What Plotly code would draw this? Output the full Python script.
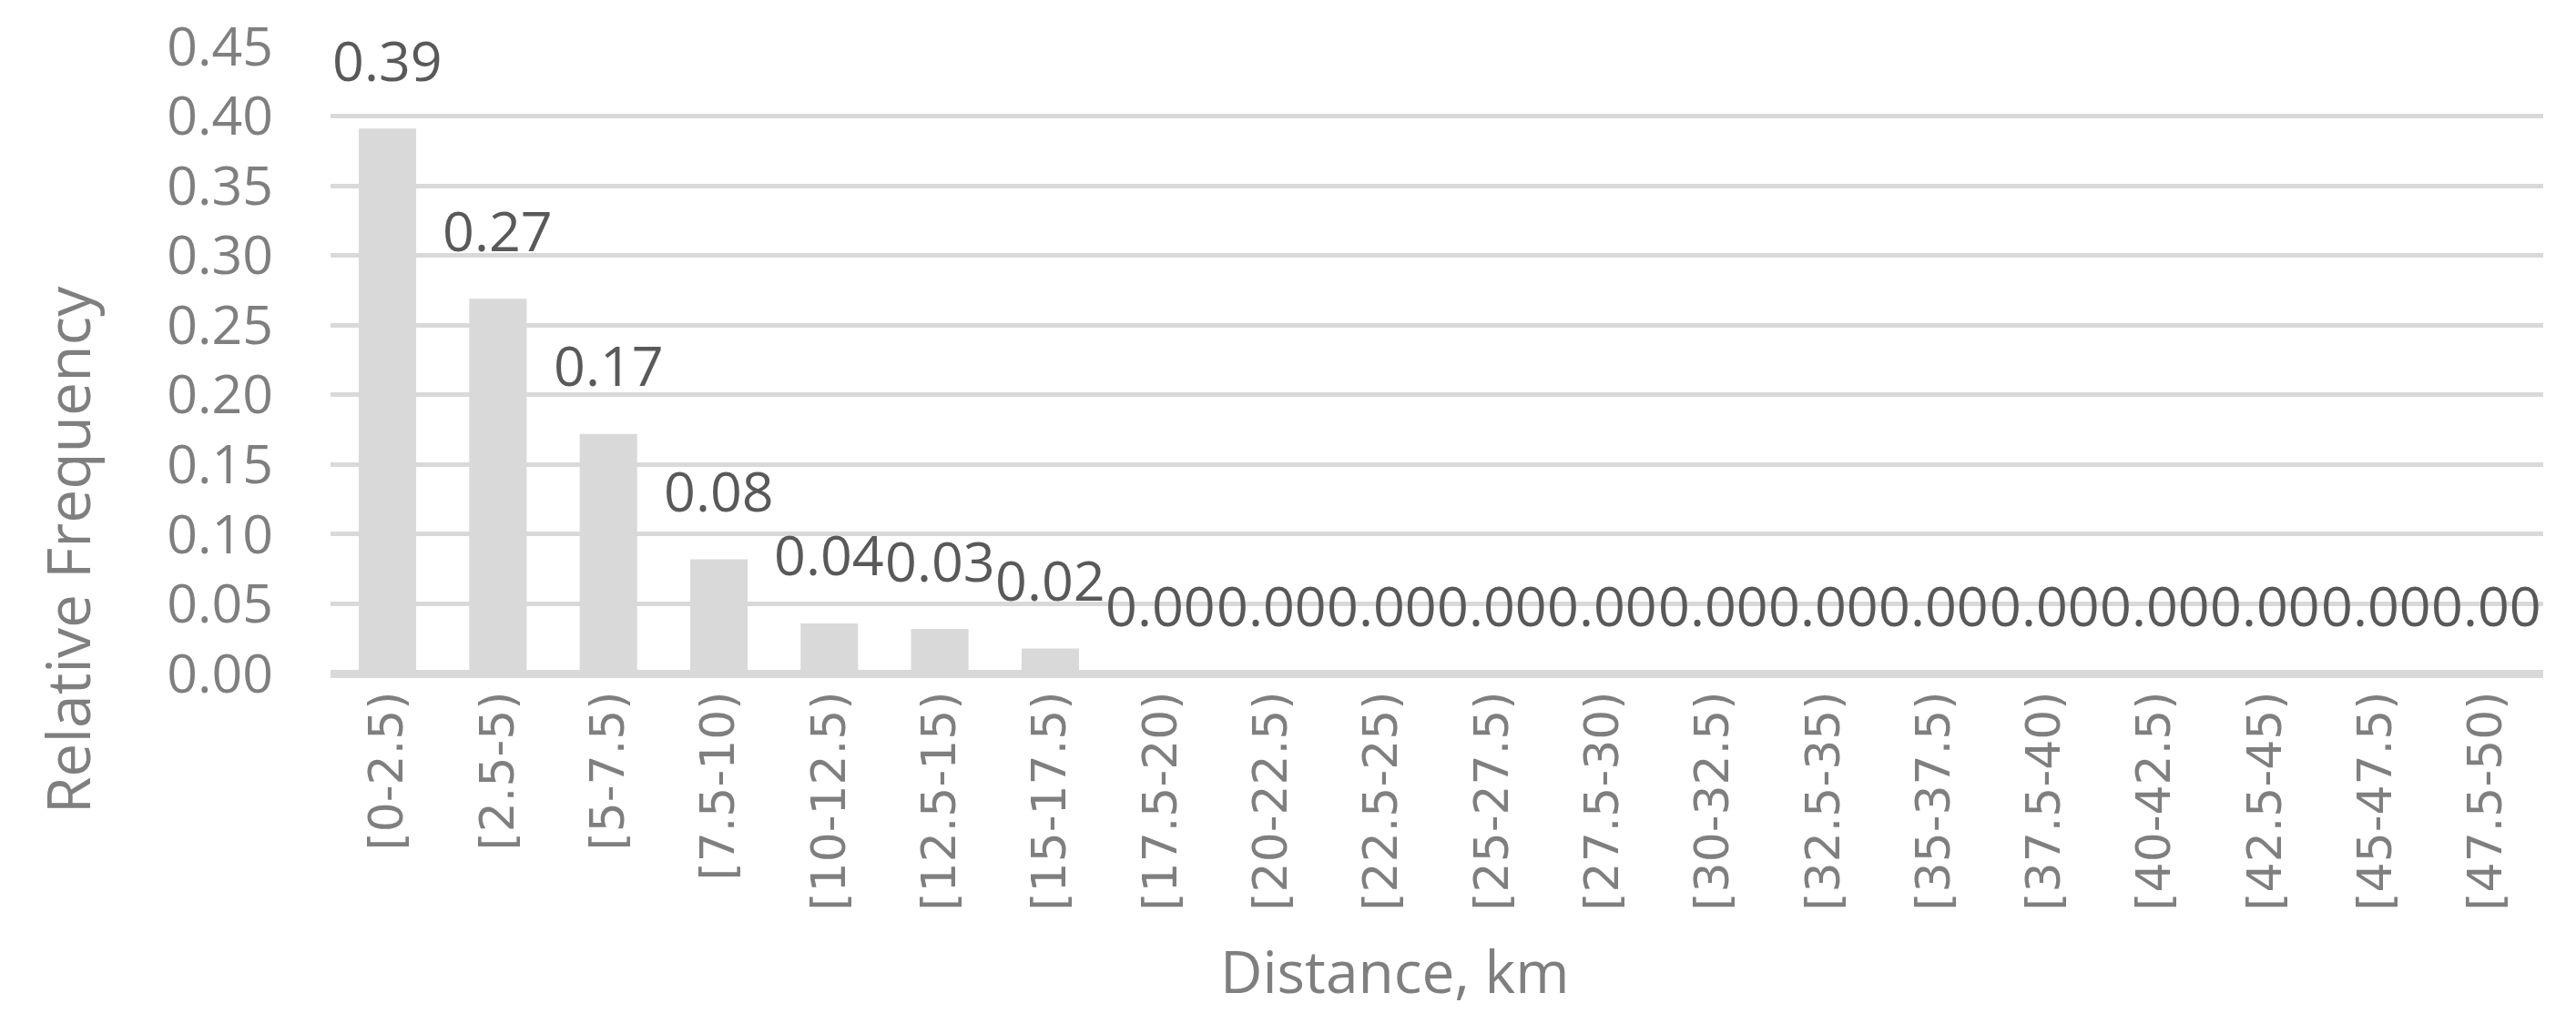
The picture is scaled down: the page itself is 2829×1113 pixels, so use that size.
import plotly.graph_objects as go

# distance bins (km) and their relative frequency
distance_bins = [
    "[0-2.5)", "[2.5-5)", "[5-7.5)", "[7.5-10)", "[10-12.5)", "[12.5-15)",
    "[15-17.5)", "[17.5-20)", "[20-22.5)", "[22.5-25)", "[25-27.5)", "[27.5-30)",
    "[30-32.5)", "[32.5-35)", "[35-37.5)", "[37.5-40)", "[40-42.5)", "[42.5-45)",
    "[45-47.5)", "[47.5-50)",
]
relative_frequency = [
    0.391, 0.269, 0.172, 0.082, 0.036, 0.032, 0.018, 0.0, 0.0, 0.0,
    0.0, 0.0, 0.0, 0.0, 0.0, 0.0, 0.0, 0.0, 0.0, 0.0,
]
y_ticks = [0.0, 0.05, 0.10, 0.15, 0.20, 0.25, 0.30, 0.35, 0.40, 0.45]

GREY = "#d9d9d9"
TEXT = "#7f7f7f"
LABEL = "#595959"

fig = go.Figure()
fig.add_trace(go.Bar(
    x=distance_bins,
    y=relative_frequency,
    marker=dict(color=GREY, line=dict(width=0)),
    hoverinfo="x+y",
))

# data labels sit well above each bar, like the Excel "outside end" labels
for cat, val in zip(distance_bins, relative_frequency):
    fig.add_annotation(
        x=cat, y=val, xref="x", yref="y",
        text=f"{val:.2f}",
        showarrow=False,
        yanchor="middle",
        yshift=76,
        font=dict(family="Open Sans", size=61, color=LABEL),
    )

# axis titles
fig.add_annotation(
    x=-0.1193, y=0.197, xref="paper", yref="paper",
    text="Relative Frequency", textangle=-90, showarrow=False,
    xanchor="center", yanchor="middle",
    font=dict(family="Open Sans", size=66, color=TEXT),
)
fig.add_annotation(
    x=0.481, y=-0.474, xref="paper", yref="paper",
    text="Distance, km", showarrow=False,
    xanchor="center", yanchor="middle",
    font=dict(family="Open Sans", size=64, color=TEXT),
)

fig.update_layout(
    width=2829,
    height=1113,
    margin=dict(l=355, r=44, t=43, b=381, autoexpand=False),
    plot_bgcolor="white",
    paper_bgcolor="white",
    bargap=0.48,
    showlegend=False,
    xaxis=dict(
        type="category",
        automargin=False,
        tickangle=-90,
        tickfont=dict(family="DejaVu Sans", size=52, color=TEXT),
        showgrid=False,
        showline=False,
        ticks="",
        ticklabelstandoff=8,
    ),
    yaxis=dict(
        automargin=False,
        range=[0, 0.45],
        tickvals=y_ticks,
        tickformat=".2f",
        tickfont=dict(family="Open Sans", size=59, color=TEXT),
        showgrid=True,
        gridcolor=GREY,
        gridwidth=5,
        zeroline=True,
        zerolinecolor=GREY,
        zerolinewidth=9,
        showline=False,
        ticks="",
        ticklabelstandoff=62,
    ),
)

fig.write_html("out.html")
